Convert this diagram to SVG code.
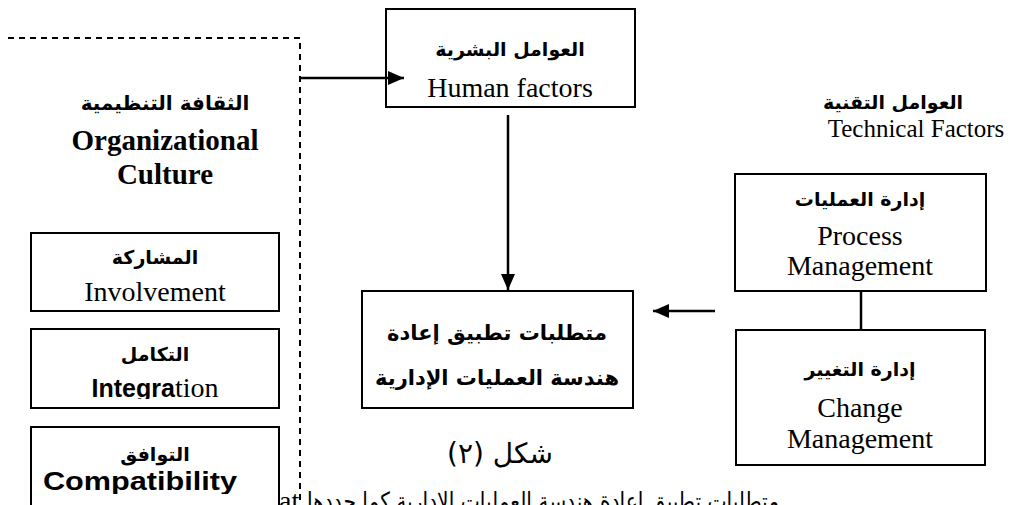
<svg xmlns="http://www.w3.org/2000/svg" width="1011" height="505" viewBox="0 0 1011 505">
<style>
.box{fill:#fff;stroke:#000;stroke-width:2}
.ar{font-family:"DejaVu Sans","Liberation Sans",sans-serif;font-weight:bold;font-size:19px;direction:rtl;unicode-bidi:embed;text-anchor:middle;fill:#000}
.arr{font-family:"DejaVu Sans","Liberation Sans",sans-serif;font-size:26px;direction:rtl;unicode-bidi:embed;text-anchor:middle;fill:#000}
.en{font-family:"Liberation Serif","Times New Roman",serif;font-size:28px;text-anchor:middle;fill:#000}
.enb{font-family:"Liberation Serif","Times New Roman",serif;font-size:29px;font-weight:bold;text-anchor:middle;fill:#000}
.sb{font-family:"Liberation Sans",Arial,sans-serif;font-weight:bold;font-size:25px}
.ln{stroke:#000;stroke-width:2.5;fill:none}
.dash{stroke:#000;stroke-width:2;fill:none;stroke-dasharray:6 5}
</style>
<defs>
<marker id="ah" markerUnits="userSpaceOnUse" markerWidth="16" markerHeight="14" refX="16" refY="7" orient="auto">
<path d="M0,0 L16,7 L0,14 z" fill="#000"/>
</marker>
<clipPath id="c2"><rect x="31" y="329" width="248" height="70"/></clipPath>
<clipPath id="c3"><rect x="31" y="427" width="248" height="67"/></clipPath>
</defs>

<text x="279" y="510" class="en" style="text-anchor:start">at</text>
<text x="543" y="510" class="arr" style="font-size:25px" textLength="472" lengthAdjust="spacingAndGlyphs">متطلبات تطبيق إعادة هندسة العمليات الإدارية كما حددها</text>

<g id="org-culture">
<path class="dash" d="M8,38 H300 V505"/>
<text x="165" y="110" class="ar" style="font-size:20px">الثقافة التنظيمية</text>
<text x="165" y="150" class="enb">Organizational</text>
<text x="165" y="184" class="enb">Culture</text>
</g>

<g id="involvement">
<rect class="box" x="31" y="233" width="248" height="78"/>
<text x="155" y="264" class="ar">المشاركة</text>
<text x="155" y="301" class="en">Involvement</text>
</g>

<g id="integration">
<rect class="box" x="31" y="329" width="248" height="79"/>
<text x="155" y="361" class="ar">التكامل</text>
<text x="155" y="397" class="en" clip-path="url(#c2)"><tspan class="sb">Integra</tspan>tion</text>
</g>

<g id="compatibility">
<rect class="box" x="31" y="427" width="248" height="90"/>
<text x="155" y="461" class="ar">التوافق</text>
<text x="140" y="490" class="sb" style="text-anchor:middle" textLength="194" lengthAdjust="spacingAndGlyphs" clip-path="url(#c3)">Compatibility</text>
</g>

<g id="human-factors">
<rect class="box" x="386" y="9" width="249" height="98"/>
<text x="510" y="56" class="ar">العوامل البشرية</text>
<text x="510" y="97" class="en">Human factors</text>
</g>

<g id="requirements">
<rect class="box" x="362" y="291" width="271" height="117"/>
<text x="497" y="340" class="ar" style="font-size:21px">متطلبات تطبيق إعادة</text>
<text x="497" y="385" class="ar" style="font-size:21px">هندسة العمليات الإدارية</text>
</g>

<g id="caption">
<text x="500" y="463" class="arr" style="font-size:28px">شكل (٢)</text>
</g>

<g id="technical-factors">
<text x="893" y="109" class="ar">العوامل التقنية</text>
<text x="916" y="137" class="en" style="font-size:25px">Technical Factors</text>
</g>

<g id="process-management">
<rect class="box" x="735" y="174" width="251" height="117"/>
<text x="860" y="206" class="ar">إدارة العمليات</text>
<text x="860" y="245" class="en">Process</text>
<text x="860" y="275" class="en">Management</text>
</g>

<g id="change-management">
<rect class="box" x="736" y="330" width="249" height="135"/>
<text x="860" y="376" class="ar">إدارة التغيير</text>
<text x="860" y="417" class="en">Change</text>
<text x="860" y="448" class="en">Management</text>
</g>

<g id="connectors">
<line class="ln" x1="300" y1="78" x2="404" y2="78" marker-end="url(#ah)"/>
<line class="ln" x1="508" y1="115" x2="508" y2="290" marker-end="url(#ah)"/>
<line class="ln" x1="715" y1="311" x2="653" y2="311" marker-end="url(#ah)"/>
<line class="ln" x1="861" y1="291" x2="861" y2="330"/>
</g>
</svg>
